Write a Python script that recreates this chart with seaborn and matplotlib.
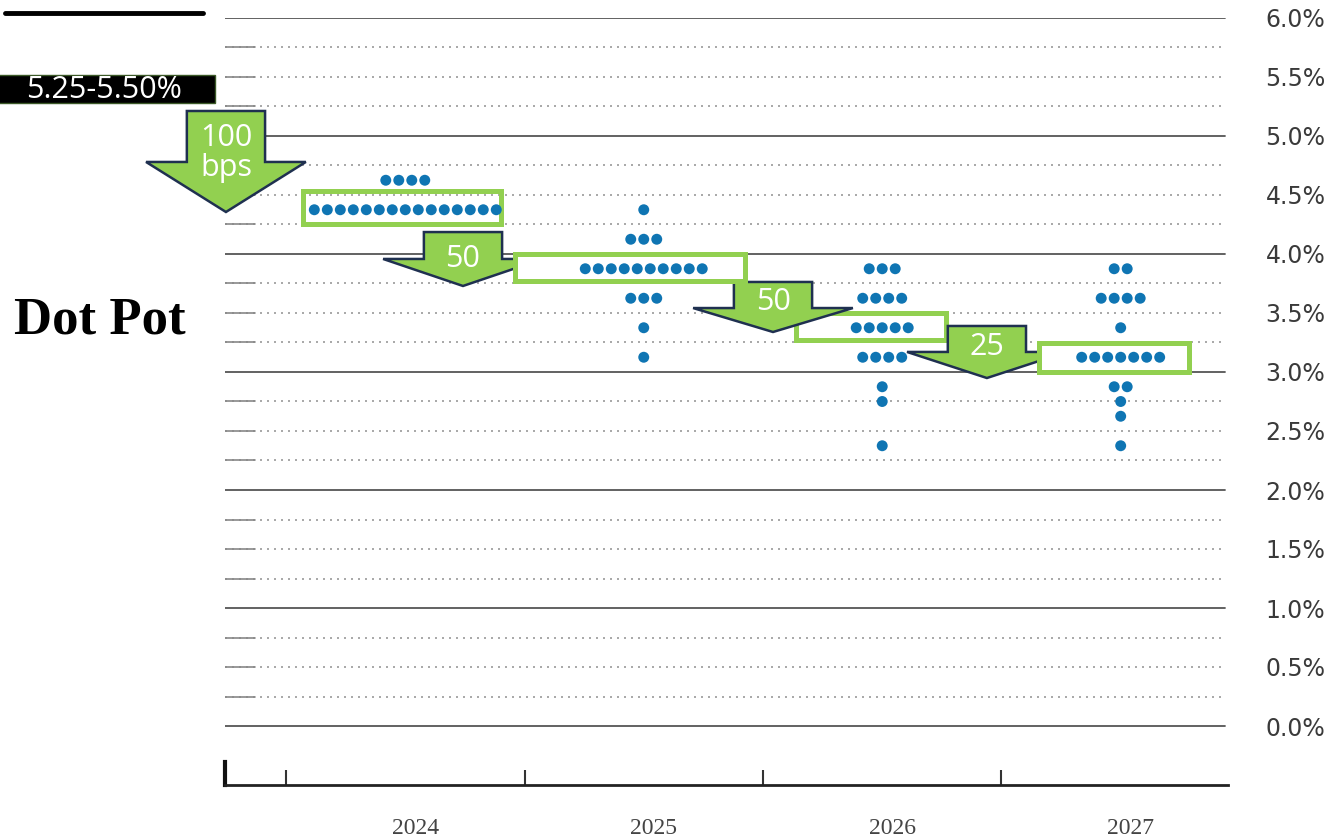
import numpy as np
import pandas as pd
import matplotlib
matplotlib.use("Agg")
import matplotlib.pyplot as plt
import matplotlib.transforms as mtransforms
from matplotlib.patches import Polygon, Rectangle
from matplotlib.lines import Line2D
import seaborn as sns

# dot plot projections (one dot per participant)
years = ["2024", "2025", "2026", "2027"]
rate_2024 = [4.625, 4.375]
count_2024 = [4, 15]
rate_2025 = [4.375, 4.125, 3.875, 3.625, 3.375, 3.125]
count_2025 = [1, 3, 10, 3, 1, 1]
rate_2026 = [3.875, 3.625, 3.375, 3.125, 2.875, 2.75, 2.375]
count_2026 = [3, 4, 5, 4, 1, 1, 1]
rate_2027 = [3.875, 3.625, 3.375, 3.125, 2.875, 2.75, 2.625, 2.375]
count_2027 = [2, 4, 1, 7, 2, 1, 1, 1]

y_ticks = np.arange(0, 6.01, 0.5)
current_range = "5.25-5.50%"
title = "Dot Pot"

# arrows: label, x centre, top, wing, tip, text y
cut_arrows = [
    ("100\nbps", -0.752, 5.212, 4.780, 4.356, 4.852),
    ("50", 0.242, 4.186, 3.958, 3.729, 3.958),
    ("50", 1.542, 3.763, 3.542, 3.339, 3.593),
    ("25", 2.439, 3.390, 3.170, 2.949, 3.212),
]
# median boxes: x0, x1, y0, y1
median_boxes = [
    (-0.441, 0.410, 4.237, 4.551),
    (0.448, 1.433, 3.754, 4.025),
    (1.626, 2.280, 3.254, 3.525),
    (2.645, 3.299, 2.983, 3.263),
]

dot_step = 0.0545
rows = []
all_rates = [rate_2024, rate_2025, rate_2026, rate_2027]
all_counts = [count_2024, count_2025, count_2026, count_2027]
for i, (rates, counts) in enumerate(zip(all_rates, all_counts)):
    for r, n in zip(rates, counts):
        for k in range(n):
            rows.append({"year": years[i], "x": i + (k - (n - 1) / 2) * dot_step, "rate": r})
dots = pd.DataFrame(rows)

sns.set_theme(style="white")
plt.rcParams["font.family"] = ["DejaVu Sans"]

green = "#92d050"
navy = "#1f3050"

fig = plt.figure(figsize=(13.34, 8.38), dpi=100)
ax = fig.add_axes([225 / 1334, 1 - 785 / 838, 1003 / 1334, 767 / 838])
ax.set_xlim(-0.756, 3.45)
ax.set_ylim(-0.5, 6.0)

# grid
for v in np.arange(0, 6.01, 0.25):
    if abs(v - round(v)) < 1e-9:
        ax.axhline(v, xmin=0, xmax=0.997, color="#555555", lw=1.3, zorder=1)
    else:
        ax.axhline(v, xmin=0, xmax=0.997, color="#9a9a9a", lw=1.2,
                   linestyle=(0, (1.2, 3)), zorder=1)
        ax.axhline(v, xmin=0, xmax=0.03, color="#888888", lw=1.2, zorder=1)

# median boxes
for j, (x0, x1, y0, y1) in enumerate(median_boxes):
    fc = "none" if j == 0 else "white"
    z = 2.5 if j == 2 else 4
    ax.add_patch(Rectangle((x0 + 0.0105, y0 + 0.021), x1 - x0 - 0.021, y1 - y0 - 0.042,
                           facecolor=fc, edgecolor=green, lw=3.6, zorder=z))

# arrows
for label, xc, top, wing, tip, ty in cut_arrows:
    sw, hw = 0.164, 0.335
    pts = [(xc - sw, top), (xc + sw, top), (xc + sw, wing), (xc + hw, wing),
           (xc, tip), (xc - hw, wing), (xc - sw, wing)]
    ax.add_patch(Polygon(pts, closed=True, facecolor=green, edgecolor=navy,
                         lw=1.8, zorder=3, clip_on=False, joinstyle="miter"))
    ax.text(xc, ty, label, color="white", ha="center", va="center", fontsize=22,
            family="Open Sans", linespacing=1.0, zorder=3.5)

sns.scatterplot(data=dots, x="x", y="rate", color="#0f75b3", s=62, edgecolor="none",
                ax=ax, legend=False, zorder=5)

# axes styling
for s in ["top", "right"]:
    ax.spines[s].set_visible(False)
ax.spines["bottom"].set_color("#222222")
ax.spines["bottom"].set_linewidth(2)
ax.spines["left"].set_color("#111111")
ax.spines["left"].set_linewidth(3)
ax.spines["left"].set_bounds(-0.5, -0.305)

ax.yaxis.tick_right()
ax.set_yticks(y_ticks)
ax.set_yticklabels([f"{v:.1f}%" for v in y_ticks])
ax.tick_params(axis="y", length=0, pad=27, labelsize=17, labelcolor="#3a3a3a")

ax.set_xticks([-0.5, 0.5, 1.5, 2.5])
ax.set_xticklabels([])
ax.set_xticks(range(len(years)), minor=True)
ax.set_xticklabels(years, minor=True)
ax.tick_params(axis="x", which="major", direction="in", length=11, width=1.5,
               color="#333333", bottom=True)
ax.tick_params(axis="x", which="minor", length=0, pad=24, labelsize=17,
               labelcolor="#444444", bottom=True)
shift = mtransforms.ScaledTranslation(0.1, 0, fig.dpi_scale_trans)
for lab in ax.get_xticklabels(minor=True):
    lab.set_fontfamily("Liberation Serif")
    lab.set_transform(lab.get_transform() + shift)
ax.set_xlabel("")
ax.set_ylabel("")

# left side decorations
fig.add_artist(Line2D([5 / 1334, 203 / 1334], [1 - 13 / 838] * 2, color="black",
                      lw=3.5, transform=fig.transFigure))
fig.add_artist(Rectangle((-0.01, 1 - 103 / 838), 228 / 1334, 28 / 838, transform=fig.transFigure,
                         facecolor="black", edgecolor="#3c5a28", lw=1))
fig.text(104 / 1334, 1 - 90 / 838, current_range, color="white", ha="center", va="center",
         fontsize=22, family="Open Sans")
fig.text(100 / 1334, 1 - 333 / 838, title, ha="center", va="baseline", fontsize=38,
         weight="bold", family="Liberation Serif", color="black")

fig.savefig("out.png", dpi=100)
